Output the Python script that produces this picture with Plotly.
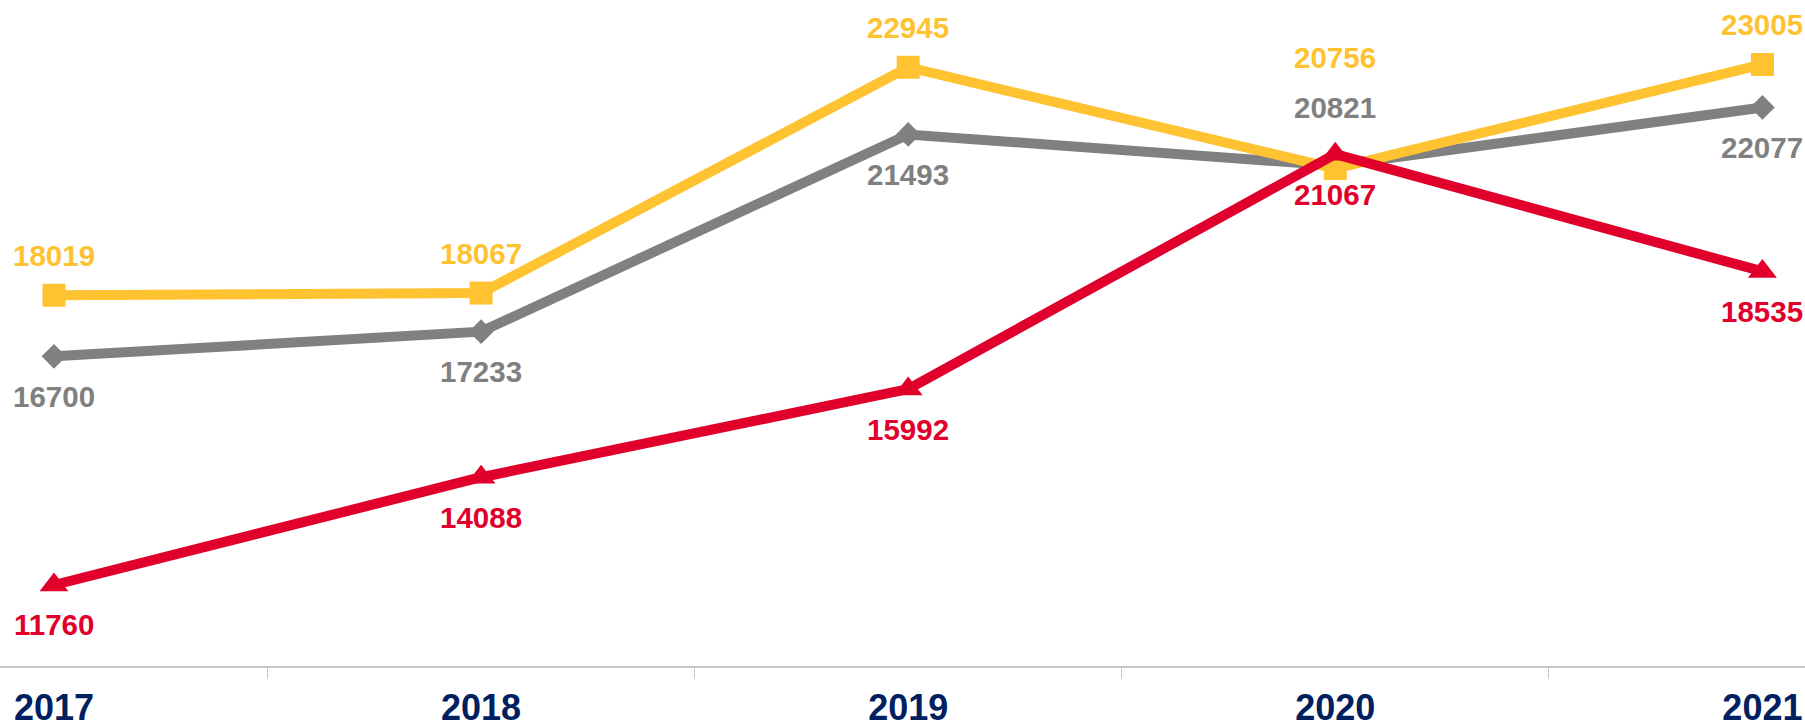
import plotly.graph_objects as go

years = ["2017", "2018", "2019", "2020", "2021"]
yellow_vals = [18019, 18067, 22945, 20756, 23005]
grey_vals = [16700, 17233, 21493, 20821, 22077]
red_vals = [11760, 14088, 15992, 21067, 18535]

# label offsets in pixels (positive = above the marker)
yellow_shift = [40, 40, 40, 111, 40]
grey_shift = [-40, -40, -40, 58, -40]
red_shift = [-40, -40, -40, -40, -40]

YELLOW = "#FFC231"
GREY = "#808080"
RED = "#E0002B"
NAVY = "#002060"
FONT = "Liberation Sans, Arial, sans-serif"

fig = go.Figure()

series = [
    (grey_vals, GREY, "diamond", 19, grey_shift),
    (yellow_vals, YELLOW, "square", 23, yellow_shift),
    (red_vals, RED, "triangle-up", 25, red_shift),
]

for vals, color, sym, msize, shifts in series:
    fig.add_trace(go.Scatter(
        x=years, y=vals, mode="lines+markers",
        line=dict(color=color, width=10),
        marker=dict(symbol=sym, size=msize, color=color, line=dict(width=0)),
        showlegend=False, hoverinfo="skip",
    ))
    for i, (v, s) in enumerate(zip(vals, shifts)):
        fig.add_annotation(
            x=i, y=v, xref="x", yref="y", text=f"<b>{v}</b>", showarrow=False,
            yshift=s, xanchor="center", yanchor="middle",
            font=dict(family=FONT, size=29.5, color=color),
        )

fig.update_layout(
    width=1805, height=728,
    margin=dict(l=0, r=0, t=0, b=62),
    paper_bgcolor="white", plot_bgcolor="white",
    xaxis=dict(
        type="category", range=[-0.1264, 4.0997], automargin=False,
        tickson="boundaries", ticks="outside", ticklen=11, tickwidth=1,
        tickcolor="#c8c8c8", showline=True, linecolor="#c8c8c8", linewidth=1.5,
        showgrid=False, zeroline=False, ticklabelstandoff=9,
        tickfont=dict(family=FONT, size=36, color=NAVY, weight="bold"),
        fixedrange=True,
    ),
    yaxis=dict(
        range=[10010, 24398], visible=False, showgrid=False, zeroline=False,
        fixedrange=True, automargin=False,
    ),
)

fig.write_html("out.html")
